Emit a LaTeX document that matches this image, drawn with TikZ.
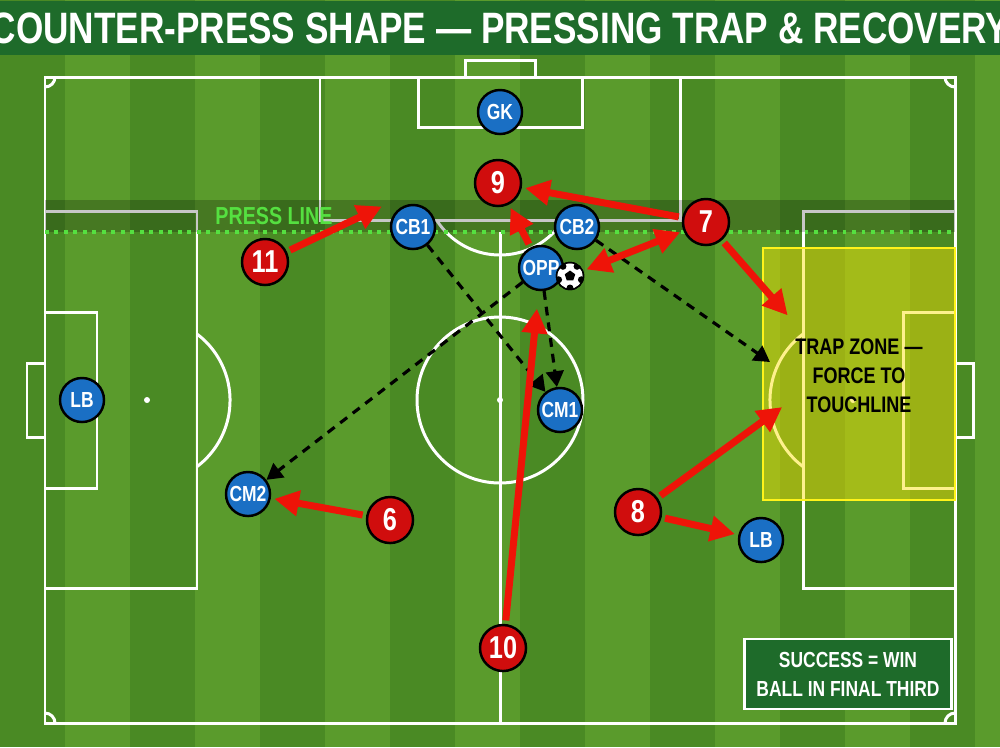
\documentclass[tikz,border=0pt]{standalone}
\usepackage{fontspec}
\setmainfont{Liberation Sans}[FakeStretch=0.8,BoldFeatures={FakeStretch=0.8}]
\usetikzlibrary{arrows.meta,shapes.geometric,calc}
\definecolor{grA}{HTML}{5A9B2C}
\definecolor{grB}{HTML}{4A8A24}
\definecolor{tgreen}{HTML}{1E6B2A}
\definecolor{pred}{HTML}{D00D0D}
\definecolor{pblue}{HTML}{1A6FC4}
\definecolor{arred}{HTML}{EE1408}
\definecolor{plgreen}{HTML}{55E040}
\begin{document}
\begin{tikzpicture}[x=0.01cm,y=-0.01cm,
  pline/.style={draw=white,line width=0.85pt},
  red/.style={circle,draw=black,line width=0.7pt,fill=pred,text=white,minimum size=0.46cm,inner sep=0pt,font=\bfseries\fontsize{9}{10}\selectfont},
  blue/.style={circle,draw=black,line width=0.7pt,fill=pblue,text=white,minimum size=0.44cm,inner sep=0pt,font=\bfseries\fontsize{6.2}{7}\selectfont},
  rarr/.style={draw=arred,line width=2pt,-{Triangle[length=7pt,width=7pt]},shorten >=1pt,shorten <=1pt},
  darr/.style={draw=black,line width=0.9pt,dash pattern=on 2.5pt off 2pt,-{Triangle[length=4.5pt,width=5pt]}}]
\useasboundingbox (0,0) rectangle (1000,747);
\fill[grA] (0,0) rectangle (1000,747);
\foreach \i in {0,...,7}{\fill[grB] (\i*130,0) rectangle (\i*130+65,747);}
% title
\node[fill=tgreen,minimum width=7.61cm,minimum height=0.41cm,text=white,font=\bfseries\fontsize{12.5}{13}\selectfont] (title) at (500,28) {COUNTER-PRESS SHAPE — PRESSING TRAP \& RECOVERY};
% pitch
\draw[pline] (45,77) rectangle (955,723);
\draw[pline] (465,77) -- (465,60) -- (535,60) -- (535,77);
\draw[pline] (320,77) rectangle (680,220);
\draw[pline] (418,77) rectangle (582,127);
\begin{scope}
\clip (400,220) rectangle (600,300);
\draw[pline] (500,180) circle[radius=75];
\end{scope}
\begin{scope}
\clip (45,77) rectangle (955,723);
\draw[pline] (45,77) circle[radius=10];
\draw[pline] (955,77) circle[radius=10];
\draw[pline] (45,723) circle[radius=10];
\draw[pline] (955,723) circle[radius=10];
\end{scope}
\draw[pline] (500,232) -- (500,723);
\draw[pline] (500,400) circle[radius=83];
\fill[white] (500,400) circle[radius=3];
\draw[pline] (45,211) rectangle (197,588);
\draw[pline] (45,312) rectangle (97,488);
\draw[pline] (45,363) -- (27,363) -- (27,437) -- (45,437);
\fill[white] (147,400) circle[radius=3];
\draw[pline] (197,334) arc[start angle=-53,end angle=53,radius=83] ;
\draw[pline] (803,211) rectangle (955,588);
\draw[pline] (903,312) rectangle (955,488);
\draw[pline] (955,363) -- (973,363) -- (973,437) -- (955,437);
\fill[white] (853,400) circle[radius=3];
\draw[pline] (803,334) arc[start angle=233,end angle=127,radius=83];
% press band
\fill[black,opacity=0.22] (45,200) rectangle (955,232);
\draw[plgreen,line width=1.1pt,dash pattern=on 1.1pt off 1.6pt] (45,232) -- (955,232);
\node[text=plgreen,font=\bfseries\fontsize{7}{8}\selectfont,anchor=west] (pl) at (203,216) {PRESS LINE};
% trap zone
\fill[yellow!85!orange,opacity=0.45] (763,248) rectangle (955,500);
\draw[yellow!90!white,line width=0.7pt] (763,248) rectangle (955,500);
\node[font=\bfseries\fontsize{6.4}{8.3}\selectfont,align=center] (trap) at (859,376) {TRAP ZONE —\\FORCE TO\\TOUCHLINE};
% success
\node[fill=tgreen,draw=white,line width=0.7pt,minimum width=1.72cm,minimum height=0.7cm,text=white,align=center,font=\bfseries\fontsize{6.2}{8.3}\selectfont] (succ) at (848,674) {SUCCESS = WIN\\BALL IN FINAL THIRD};
% players
\node[blue] (gk) at (500,112) {GK};
\node[blue] (cb1) at (413,227) {CB1};
\node[blue] (cb2) at (577,227) {CB2};
\node[blue] (opp) at (541,268) {OPP};
\node[blue] (lbl) at (82,400) {LB};
\node[blue] (cm1) at (560,410) {CM1};
\node[blue] (cm2) at (248,494) {CM2};
\node[blue] (lbr) at (761,540) {LB};
\node[red] (n9) at (498,183) {9};
\node[red] (n7) at (706,222) {7};
\node[red] (n11) at (265,262) {11};
\node[red] (n6) at (390,520) {6};
\node[red] (n8) at (638,512) {8};
\node[red] (n10) at (503,648) {10};
% ball
\node[circle,draw=black,line width=0.4pt,fill=white,minimum size=0.27cm,inner sep=0pt] (ball) at (570,276) {};
\begin{scope}
\clip (570,276) circle[radius=13.2];
\node[regular polygon,regular polygon sides=5,fill=black,minimum size=0.11cm,inner sep=0pt] (pent) at (ball) {};
\foreach \a in {18,90,162,234,306}{\fill[black] ($(570,276)+(\a:12)$) circle[radius=3.5];}
\end{scope}
\draw[black,line width=0.4pt] (570,276) circle[radius=13.5];
% coordinates
\coordinate (t1) at (790,318);
\coordinate (t2) at (785,405);
\coordinate (t3) at (770,362);
% dashed runs
\draw[darr] (cb1) -- (cm1);
\draw[darr] (opp) -- (cm1);
\draw[darr] (opp) -- (cm2);
\draw[darr] (cb2) -- (t3);
% red arrows
\draw[rarr] (n11) -- ($(cb1)+(-28,-22)$);
\draw[rarr] (n7) -- (n9);
\draw[rarr] (opp) -- (n9);
\draw[rarr,{Triangle[length=7pt,width=7pt]}-{Triangle[length=7pt,width=7pt]}] (n7) -- (ball);
\draw[rarr] (n7) -- (t1);
\draw[rarr] (n8) -- (t2);
\draw[rarr] (n8) -- (lbr);
\draw[rarr] (n6) -- (cm2);
\draw[rarr,shorten >=5pt] (n10) -- (opp);
\end{tikzpicture}
\end{document}
